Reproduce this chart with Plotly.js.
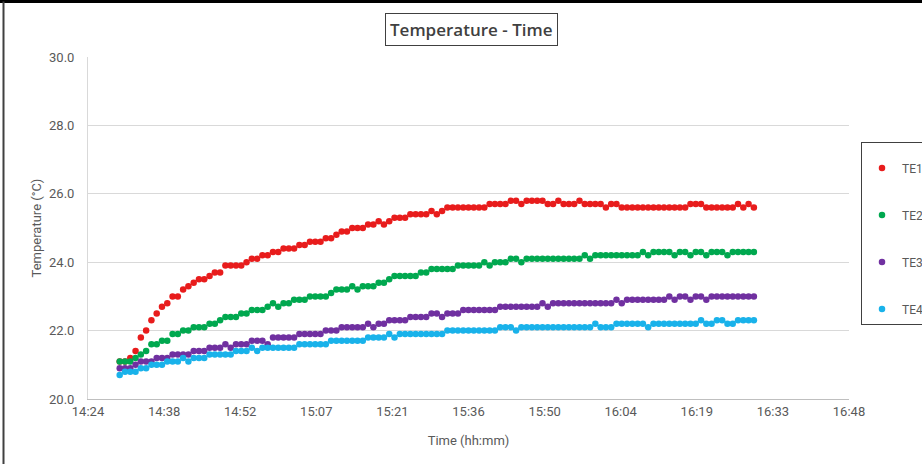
<!DOCTYPE html>
<html>
<head>
<meta charset="utf-8">
<script src="https://cdn.plot.ly/plotly-3.0.1.min.js"></script>
<style>html,body{margin:0;padding:0;background:#fff;}#chart{width:922px;height:464px;}</style>
</head>
<body>
<div id="chart"></div>
<script>
// Sampling: one reading per minute starting 14:30 (minutes after midnight)
const startMinute = 870;
const stepMinutes = 1;

const seriesNames = ["TE1", "TE2", "TE3", "TE4"];
const seriesColors = ["#e81c1c", "#00a84f", "#7030a0", "#19b2ea"];

const te1 = [
  21.1,21.1,21.2,21.4,21.8,22.0,22.3,22.5,22.7,22.8,
  23.0,23.0,23.2,23.3,23.4,23.5,23.5,23.6,23.7,23.7,
  23.9,23.9,23.9,23.9,24.0,24.1,24.1,24.2,24.2,24.3,
  24.3,24.4,24.4,24.4,24.5,24.5,24.6,24.6,24.6,24.7,
  24.7,24.8,24.9,24.9,25.0,25.0,25.0,25.1,25.1,25.2,
  25.1,25.2,25.3,25.3,25.3,25.4,25.4,25.4,25.4,25.5,
  25.4,25.5,25.6,25.6,25.6,25.6,25.6,25.6,25.6,25.6,
  25.7,25.7,25.7,25.7,25.8,25.8,25.7,25.8,25.8,25.8,
  25.8,25.7,25.7,25.8,25.7,25.7,25.7,25.8,25.7,25.7,
  25.7,25.7,25.6,25.7,25.7,25.6,25.6,25.6,25.6,25.6,
  25.6,25.6,25.6,25.6,25.6,25.6,25.6,25.6,25.7,25.7,
  25.7,25.6,25.6,25.6,25.6,25.6,25.6,25.7,25.6,25.7,
  25.6
];
const te2 = [
  21.1,21.1,21.1,21.2,21.3,21.4,21.6,21.6,21.7,21.7,
  21.9,21.9,22.0,22.0,22.1,22.1,22.1,22.2,22.2,22.3,
  22.4,22.4,22.4,22.5,22.5,22.6,22.6,22.6,22.7,22.8,
  22.7,22.8,22.8,22.9,22.9,22.9,23.0,23.0,23.0,23.0,
  23.1,23.2,23.2,23.2,23.3,23.2,23.3,23.3,23.3,23.4,
  23.4,23.5,23.6,23.6,23.6,23.6,23.6,23.7,23.7,23.8,
  23.8,23.8,23.8,23.8,23.9,23.9,23.9,23.9,23.9,24.0,
  23.9,24.0,24.0,24.0,24.1,24.1,24.0,24.1,24.1,24.1,
  24.1,24.1,24.1,24.1,24.1,24.1,24.1,24.1,24.2,24.1,
  24.2,24.2,24.2,24.2,24.2,24.2,24.2,24.2,24.2,24.3,
  24.2,24.3,24.3,24.3,24.3,24.2,24.3,24.3,24.2,24.3,
  24.3,24.2,24.3,24.3,24.3,24.2,24.3,24.3,24.3,24.3,
  24.3
];
const te3 = [
  20.9,20.9,20.9,21.0,21.1,21.1,21.1,21.2,21.2,21.2,
  21.3,21.3,21.3,21.3,21.4,21.4,21.4,21.5,21.5,21.5,
  21.6,21.5,21.6,21.6,21.6,21.7,21.7,21.7,21.6,21.8,
  21.8,21.8,21.8,21.8,21.9,21.9,21.9,21.9,21.9,22.0,
  22.0,22.0,22.1,22.1,22.1,22.1,22.1,22.2,22.1,22.2,
  22.2,22.3,22.3,22.3,22.3,22.4,22.4,22.4,22.4,22.5,
  22.5,22.4,22.5,22.5,22.5,22.6,22.6,22.6,22.6,22.6,
  22.6,22.6,22.7,22.7,22.7,22.7,22.7,22.7,22.7,22.7,
  22.8,22.7,22.8,22.8,22.8,22.8,22.8,22.8,22.8,22.8,
  22.8,22.8,22.8,22.8,22.9,22.8,22.9,22.9,22.9,22.9,
  22.9,22.9,22.9,22.9,23.0,22.9,23.0,23.0,22.9,23.0,
  23.0,22.9,23.0,23.0,23.0,23.0,23.0,23.0,23.0,23.0,
  23.0
];
const te4 = [
  20.7,20.8,20.8,20.8,20.9,20.9,21.0,21.0,21.0,21.1,
  21.1,21.1,21.2,21.1,21.2,21.2,21.2,21.3,21.3,21.3,
  21.3,21.3,21.4,21.4,21.4,21.5,21.4,21.5,21.5,21.5,
  21.5,21.5,21.5,21.5,21.6,21.6,21.6,21.6,21.6,21.6,
  21.7,21.7,21.7,21.7,21.7,21.7,21.7,21.8,21.8,21.8,
  21.8,21.9,21.8,21.9,21.9,21.9,21.9,21.9,21.9,21.9,
  21.9,21.9,22.0,22.0,22.0,22.0,22.0,22.0,22.0,22.0,
  22.0,22.0,22.1,22.1,22.1,22.0,22.1,22.1,22.1,22.1,
  22.1,22.1,22.1,22.1,22.1,22.1,22.1,22.1,22.1,22.1,
  22.2,22.1,22.1,22.1,22.2,22.2,22.2,22.2,22.2,22.2,
  22.1,22.2,22.2,22.2,22.2,22.2,22.2,22.2,22.2,22.2,
  22.3,22.2,22.2,22.3,22.3,22.2,22.2,22.3,22.3,22.3,
  22.3
];

// Axis ticks (Excel-style 0.01-day steps, in minutes after midnight)
const xTickVals = [864, 878.4, 892.8, 907.2, 921.6, 936, 950.4, 964.8, 979.2, 993.6, 1008];
const xTickText = ["14:24","14:38","14:52","15:07","15:21","15:36","15:50","16:04","16:19","16:33","16:48"];
const yTickVals = [20, 22, 24, 26, 28, 30];
const yTickText = ["20.0","22.0","24.0","26.0","28.0","30.0"];

const allSeries = [te1, te2, te3, te4];
const fontFam = "Roboto, Arial, sans-serif";

const traces = allSeries.map((vals, k) => ({
  type: "scatter",
  mode: "markers",
  name: seriesNames[k],
  legendgroup: seriesNames[k],
  x: vals.map((_, i) => startMinute + i * stepMinutes),
  y: vals,
  marker: { color: seriesColors[k], size: 6.5 }
}));

// pixel helpers for paper coords (plot area 88..849 x, 57..399 y)
const L = 88, R = 849, T = 57, B = 399;
const px = p => (p - L) / (R - L);
const py = p => (B - p) / (B - T);

const layout = {
  width: 922, height: 464,
  margin: { l: L, r: 922 - R, t: T, b: 464 - B, autoexpand: false },
  paper_bgcolor: "#ffffff",
  plot_bgcolor: "#ffffff",
  font: { family: fontFam, color: "#595959", size: 13 },
  showlegend: true,
  legend: {
    x: px(861), y: py(142), xanchor: "left", yanchor: "top",
    bordercolor: "#404040", borderwidth: 1, bgcolor: "#ffffff",
    font: { family: fontFam, size: 12, color: "#595959" },
    title: { text: " ", font: { size: 8 } },
    traceorder: "grouped", tracegroupgap: 28, itemwidth: 30
  },
  xaxis: {
    range: [864, 1008],
    tickvals: xTickVals, ticktext: xTickText,
    showgrid: false, zeroline: false,
    showline: true, linecolor: "#bfbfbf", linewidth: 1,
    ticks: "", tickfont: { size: 13, color: "#595959" },
    title: { text: "Time (hh:mm)", font: { size: 13, color: "#595959" }, standoff: 18 }
  },
  yaxis: {
    range: [20, 30],
    tickvals: yTickVals, ticktext: yTickText,
    showgrid: true, gridcolor: "#d9d9d9", gridwidth: 1,
    zeroline: false,
    showline: true, linecolor: "#d9d9d9", linewidth: 1,
    ticks: "", ticklabelstandoff: 10, tickfont: { size: 13, color: "#595959" },
    title: { text: "Temperature (°C)", font: { size: 13, color: "#595959" }, standoff: 4 }
  },
  annotations: [{
    xref: "paper", yref: "paper",
    x: px(471), y: py(29.5), xanchor: "center", yanchor: "middle",
    text: "Temperature - Time", showarrow: false,
    font: { family: "Open Sans, sans-serif", size: 17, color: "#404040", weight: 600 },
    bordercolor: "#404040", borderwidth: 1, borderpad: 4, bgcolor: "#ffffff"
  }],
  shapes: [
    { type: "line", xref: "paper", yref: "paper", x0: px(0), x1: px(922), y0: py(1.5), y1: py(1.5),
      line: { color: "#000000", width: 3 } },
    { type: "line", xref: "paper", yref: "paper", x0: px(3.5), x1: px(3.5), y0: py(464), y1: py(1.5),
      line: { color: "#404040", width: 2 } }
  ]
};

Plotly.newPlot("chart", traces, layout, { displayModeBar: false, staticPlot: true });
</script>
</body>
</html>
